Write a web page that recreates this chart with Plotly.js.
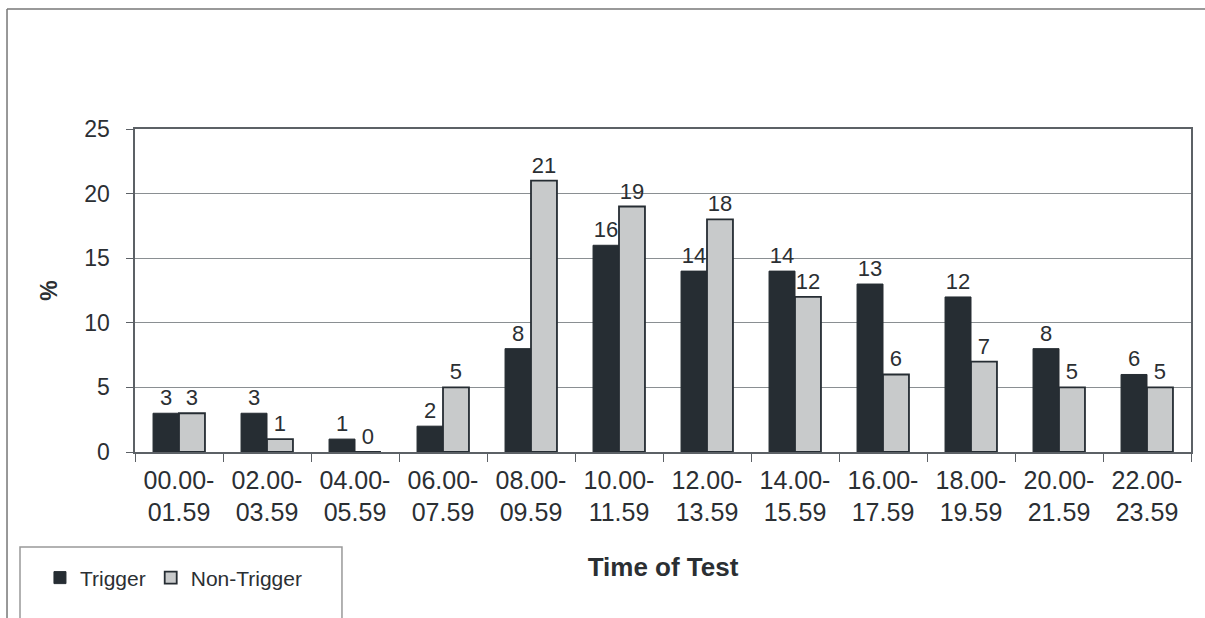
<!DOCTYPE html>
<html>
<head>
<meta charset="utf-8">
<script src="https://cdn.plot.ly/plotly-3.0.1.min.js"></script>
<style>html,body{margin:0;padding:0;background:#fff;}#chart{width:1205px;height:618px;}</style>
</head>
<body>
<div id="chart"></div>
<script>
const categories = ["00.00-<br>01.59","02.00-<br>03.59","04.00-<br>05.59","06.00-<br>07.59","08.00-<br>09.59","10.00-<br>11.59","12.00-<br>13.59","14.00-<br>15.59","16.00-<br>17.59","18.00-<br>19.59","20.00-<br>21.59","22.00-<br>23.59"];
const trigger = [3,3,1,2,8,16,14,14,13,12,8,6];
const nonTrigger = [3,1,0,5,21,19,18,12,6,7,5,5];
const yTicks = [0,5,10,15,20,25];

const font = {family: "Liberation Sans, Arial, sans-serif", color: "#2b2f33"};

const traces = [
  {type: "bar", name: "Trigger", x: categories, y: trigger,
   text: trigger.map(String), textposition: "outside", cliponaxis: false,
   textfont: {size: 22, color: "#2b2f33", family: font.family},
   marker: {color: "#262d33", line: {color: "#262d33", width: 1}}},
  {type: "bar", name: "Non-Trigger", x: categories, y: nonTrigger,
   text: nonTrigger.map(String), textposition: "outside", cliponaxis: false,
   textfont: {size: 22, color: "#2b2f33", family: font.family},
   marker: {color: "#c8cacb", line: {color: "#262d33", width: 1.8}}}
];

const layout = {
  width: 1205, height: 618,
  margin: {l: 135, r: 14, t: 129, b: 166},
  paper_bgcolor: "#fff", plot_bgcolor: "#fff",
  font: font,
  barmode: "group", bargap: 0.41, bargroupgap: 0,
  showlegend: true,
  legend: {orientation: "h", x: -0.09, y: -0.39, xanchor: "left", yanchor: "middle",
           font: {size: 21, color: "#2b2f33", family: font.family}, itemwidth: 30,
           bgcolor: "rgba(0,0,0,0)", traceorder: "normal"},
  xaxis: {type: "category", tickson: "boundaries", ticks: "outside", ticklen: 8,
          ticklabelstandoff: 5,
          tickcolor: "#5c6166", showline: true, linecolor: "#5c6166", linewidth: 1.6, mirror: true,
          tickfont: {size: 25, color: "#2b2f33"}, showgrid: false,
          title: {text: "<b>Time of Test</b>", font: {size: 26, color: "#2b2f33"}, standoff: 33}},
  yaxis: {range: [0, 25], tickvals: yTicks, ticks: "outside", ticklen: 7, tickcolor: "#5c6166",
          ticklabelstandoff: 12,
          showline: true, linecolor: "#5c6166", linewidth: 1.6, mirror: true,
          showgrid: true, gridcolor: "#8a8f92", gridwidth: 1.2, zeroline: false,
          tickfont: {size: 23, color: "#2b2f33"},
          title: {text: "<b>%</b>", font: {size: 23, color: "#2b2f33"}, standoff: 20}},
  shapes: [
    {type: "line", xref: "paper", yref: "paper", x0: -0.1212, x1: 1.02, y0: 1.3715, y1: 1.3715,
     line: {color: "#777", width: 1.5}},
    {type: "line", xref: "paper", yref: "paper", x0: -0.1212, x1: -0.1212, y0: 1.3715, y1: -0.52,
     line: {color: "#777", width: 1.5}},
    {type: "rect", xref: "paper", yref: "paper", x0: -0.1089, x1: 0.196, y0: -0.294, y1: -0.55,
     line: {color: "#999", width: 1.5}, fillcolor: "rgba(0,0,0,0)"}
  ]
};

Plotly.newPlot("chart", traces, layout, {displayModeBar: false, staticPlot: true});
</script>
</body>
</html>
